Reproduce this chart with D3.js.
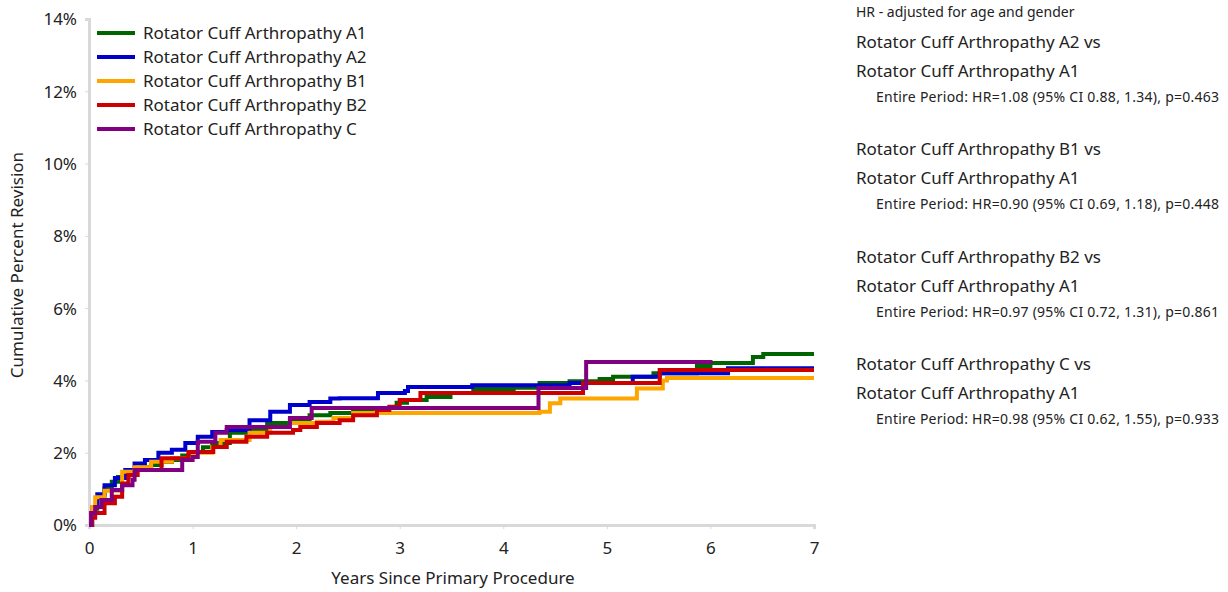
<!DOCTYPE html>
<html><head><meta charset="utf-8">
<script src="https://cdn.jsdelivr.net/npm/d3@7"></script>
<style>
html,body{margin:0;padding:0;background:#fff;}
svg text{font-family:"Noto Sans","Open Sans",sans-serif;fill:#222;}
</style></head>
<body><svg id="c" width="1228" height="592"></svg>
<script>
const seriesNames = ["Rotator Cuff Arthropathy A1","Rotator Cuff Arthropathy A2","Rotator Cuff Arthropathy B1","Rotator Cuff Arthropathy B2","Rotator Cuff Arthropathy C"];
const seriesColors = ["#006400","#0000cc","#ffa500","#cc0000","#800080"];
const xTicks = [0,1,2,3,4,5,6,7];
const yTicks = [0,2,4,6,8,10,12,14];

const a1Years  = [0,0.03,0.08,0.15,0.22,0.28,0.38,0.5,0.6,0.7,0.8,0.9,1.0,1.1,1.19,1.36,1.55,1.72,1.94,2.13,2.33,2.55,2.74,2.97,3.07,3.26,3.49,3.71,4.1,4.35,4.64,4.93,5.06,5.45,5.87,6.0,6.41,6.51,7.0];
const a1Values = [0,0.45,0.75,1.02,1.2,1.33,1.52,1.6,1.66,1.74,1.8,1.92,2.02,2.15,2.27,2.55,2.63,2.82,2.9,3.04,3.1,3.17,3.24,3.38,3.46,3.54,3.65,3.76,3.8,3.93,3.98,4.04,4.1,4.2,4.4,4.48,4.65,4.73,4.73];

const a2Years  = [0,0.03,0.08,0.15,0.25,0.35,0.44,0.54,0.67,0.8,0.93,1.05,1.19,1.33,1.55,1.75,1.94,2.13,2.33,2.42,2.79,3.05,3.08,3.7,4.64,5.25,5.51,6.17,7.0];
const a2Values = [0,0.5,0.85,1.1,1.3,1.52,1.7,1.8,2.0,2.08,2.27,2.44,2.57,2.63,2.9,3.13,3.32,3.4,3.5,3.51,3.65,3.71,3.82,3.87,3.93,4.1,4.2,4.34,4.34];

const b1Years  = [0,0.03,0.06,0.15,0.32,0.44,0.6,0.8,1.0,1.19,1.27,1.55,1.75,1.94,2.2,2.36,2.55,4.35,4.45,4.55,5.29,5.54,5.58,7.0];
const b1Values = [0,0.5,0.77,0.95,1.47,1.6,1.75,1.85,2.0,2.16,2.35,2.55,2.71,2.82,2.86,2.96,3.1,3.13,3.37,3.5,3.78,4.0,4.07,4.07];

const b2Years  = [0,0.03,0.06,0.15,0.25,0.32,0.38,0.47,0.7,0.96,1.2,1.33,1.52,1.72,1.97,2.04,2.2,2.42,2.55,2.78,2.9,3.0,3.2,4.77,5.51,7.0];
const b2Values = [0,0.2,0.33,0.6,0.78,1.15,1.38,1.52,1.85,2.02,2.16,2.3,2.44,2.55,2.63,2.71,2.82,2.9,3.04,3.18,3.27,3.46,3.65,3.93,4.29,4.29];

const cYears  = [0,0.02,0.06,0.12,0.22,0.32,0.42,0.44,0.9,1.0,1.05,1.22,1.33,1.94,2.15,4.34,4.8,6.02];
const cValues = [0,0.33,0.5,0.69,0.97,1.1,1.25,1.52,1.8,1.88,2.3,2.55,2.71,2.96,3.24,3.79,4.51,4.51];

const hrNote = "HR - adjusted for age and gender";
const hrTitles1 = ["Rotator Cuff Arthropathy A2 vs","Rotator Cuff Arthropathy B1 vs","Rotator Cuff Arthropathy B2 vs","Rotator Cuff Arthropathy C vs"];
const hrTitles2 = ["Rotator Cuff Arthropathy A1","Rotator Cuff Arthropathy A1","Rotator Cuff Arthropathy A1","Rotator Cuff Arthropathy A1"];
const hrStats = ["Entire Period: HR=1.08 (95% CI 0.88, 1.34), p=0.463","Entire Period: HR=0.90 (95% CI 0.69, 1.18), p=0.448","Entire Period: HR=0.97 (95% CI 0.72, 1.31), p=0.861","Entire Period: HR=0.98 (95% CI 0.62, 1.55), p=0.933"];

const allYears = [a1Years,a2Years,b1Years,b2Years,cYears];
const allValues = [a1Values,a2Values,b1Values,b2Values,cValues];

const svg = d3.select("#c");
const x = d3.scaleLinear().domain([0,7]).range([89,814]);
const y = d3.scaleLinear().domain([0,14]).range([525,19]);

// axes
const gx = svg.append("g").attr("transform","translate(0,525)")
  .call(d3.axisBottom(x).tickValues(xTicks).tickSize(4).tickFormat(d3.format("d")));
const gy = svg.append("g").attr("transform","translate(89,0)")
  .call(d3.axisLeft(y).tickValues(yTicks).tickSize(4).tickFormat(d=>d+"%"));
[gx,gy].forEach(g=>{
  g.select(".domain").attr("stroke","#d9d9d9").attr("stroke-width",3);
  g.selectAll(".tick line").attr("stroke","#d9d9d9").attr("stroke-width",1);
  g.selectAll(".tick text").attr("font-size",17).attr("fill","#222").attr("font-family","Noto Sans");
});
gx.selectAll(".tick text").attr("y",29).attr("dy","0");
gy.selectAll(".tick text").attr("x",-12).attr("dy","0.35em");

svg.append("text").attr("x",453).attr("y",584).attr("text-anchor","middle").attr("font-size",17).text("Years Since Primary Procedure");
svg.append("text").attr("transform","translate(23,265) rotate(-90)").attr("text-anchor","middle").attr("font-size",17).text("Cumulative Percent Revision");

// lines
const line = d3.line().x(d=>x(d[0])).y(d=>y(d[1])).curve(d3.curveStepAfter);
seriesNames.forEach((n,i)=>{
  const pts = allYears[i].map((t,j)=>[t,allValues[i][j]]);
  svg.append("path").attr("d",line(pts)).attr("fill","none")
    .attr("stroke",seriesColors[i]).attr("stroke-width",4).attr("stroke-linejoin","miter");
});

// legend
seriesNames.forEach((n,i)=>{
  const yy = 33 + i*24;
  svg.append("line").attr("x1",97).attr("x2",135).attr("y1",yy).attr("y2",yy)
    .attr("stroke",seriesColors[i]).attr("stroke-width",4);
  svg.append("text").attr("x",143).attr("y",yy).attr("dy","0.35em").attr("font-size",17).text(n);
});

// HR text
svg.append("text").attr("x",856).attr("y",12).attr("dy","0.35em").attr("font-size",14).text(hrNote);
hrTitles1.forEach((t,i)=>{
  const base = 42 + i*107.5;
  svg.append("text").attr("x",856).attr("y",base).attr("dy","0.35em").attr("font-size",17).text(t);
  svg.append("text").attr("x",856).attr("y",base+29).attr("dy","0.35em").attr("font-size",17).text(hrTitles2[i]);
  svg.append("text").attr("x",876).attr("y",base+55).attr("dy","0.35em").attr("font-size",14).attr("letter-spacing",0.25).text(hrStats[i]);
});
</script></body></html>
